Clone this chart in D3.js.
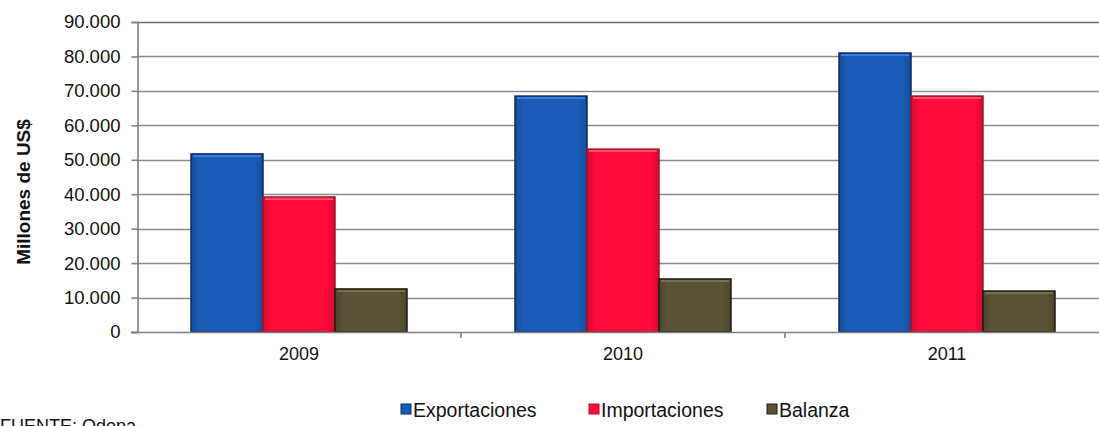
<!DOCTYPE html>
<html><head><meta charset="utf-8">
<script src="https://cdn.jsdelivr.net/npm/d3@7"></script>
<style>
html,body{margin:0;padding:0;background:#fff;overflow:hidden}
text{font-family:"Liberation Sans",Arial,sans-serif}
</style></head>
<body><svg id="c" width="1099" height="426"></svg>
<script>
const years = ["2009", "2010", "2011"];
const seriesNames = ["Exportaciones", "Importaciones", "Balanza"];
const exportaciones = [51700, 68500, 81000];
const importaciones = [39200, 53100, 68500];
const balanza = [12500, 15400, 11900];
const yTicks = [0, 10000, 20000, 30000, 40000, 50000, 60000, 70000, 80000, 90000];
const yTickLabels = ["0", "10.000", "20.000", "30.000", "40.000", "50.000", "60.000", "70.000", "80.000", "90.000"];
const yTitle = "Millones de US$";
const source = "FUENTE: Odepa";

const seriesValues = [exportaciones, importaciones, balanza];
const fills = ["#1b5cb8", "#fe0a3b", "#5b5337"];
const strokes = ["#0c2b63", "#a3152d", "#1e1c12"];
const lights = ["#3a7fe0", "#ff4d6e", "#7a7050"];

const svg = d3.select("#c");
const pLeft = 137, pTop = 22, pBottom = 332, pRight = 1109;

const y = d3.scaleLinear().domain([0, 90000]).range([pBottom, pTop]);
const x0 = d3.scaleBand().domain(years).range([pLeft, pRight]).paddingInner(0).paddingOuter(0);
const x1 = d3.scaleBand().domain(seriesNames).range([0, x0.bandwidth()]).paddingInner(0).paddingOuter(0.75);

// gradients
const defs = svg.append("defs");
seriesNames.forEach((s, i) => {
  const g = defs.append("linearGradient").attr("id", "g" + i).attr("x1", 0).attr("x2", 1).attr("y1", 0).attr("y2", 0);
  g.append("stop").attr("offset", "0%").attr("stop-color", d3.color(fills[i]).darker(0.5));
  g.append("stop").attr("offset", "12%").attr("stop-color", fills[i]);
  g.append("stop").attr("offset", "88%").attr("stop-color", fills[i]);
  g.append("stop").attr("offset", "100%").attr("stop-color", d3.color(fills[i]).darker(0.5));
});

// gridlines
svg.append("g").selectAll("line").data(yTicks.slice(1)).join("line")
  .attr("x1", pLeft).attr("x2", 1099)
  .attr("y1", d => Math.round(y(d)) + 0.5).attr("y2", d => Math.round(y(d)) + 0.5)
  .attr("stroke", d => d === 90000 ? "#6e6e6e" : "#8c8c8c").attr("stroke-width", 1.6);

// y axis
const yAxis = d3.axisLeft(y).tickValues(yTicks).tickSize(6).tickPadding(11)
  .tickFormat((d, i) => yTickLabels[i]);
const ga = svg.append("g").attr("transform", `translate(${pLeft + 0.5},0)`).call(yAxis);
ga.select(".domain").attr("stroke", "#808080").attr("stroke-width", 1.6);
ga.selectAll(".tick line").attr("stroke", "#808080").attr("stroke-width", 1.6);
ga.selectAll(".tick text").attr("font-size", 18.5).attr("fill", "#111").attr("font-family", "Liberation Sans, Arial, sans-serif");

// bars
const groups = svg.append("g").selectAll("g").data(years).join("g")
  .attr("transform", d => `translate(${x0(d)},0)`);
groups.selectAll("rect").data((d, yi) => seriesNames.map((s, si) => ({ s, si, v: seriesValues[si][yi] }))).join("rect")
  .attr("x", d => x1(d.s))
  .attr("y", d => y(d.v))
  .attr("width", x1.bandwidth())
  .attr("height", d => y(0) - y(d.v))
  .attr("fill", d => `url(#g${d.si})`)
  .attr("stroke", d => strokes[d.si]).attr("stroke-width", 1.5);
groups.selectAll("line.hl").data((d, yi) => seriesNames.map((s, si) => ({ s, si, v: seriesValues[si][yi] }))).join("line")
  .attr("class", "hl")
  .attr("x1", d => x1(d.s) + 2).attr("x2", d => x1(d.s) + x1.bandwidth() - 2)
  .attr("y1", d => y(d.v) + 2).attr("y2", d => y(d.v) + 2)
  .attr("stroke", d => lights[d.si]).attr("stroke-width", 2);

// x axis
const xAxis = d3.axisBottom(x0).tickSize(0).tickPadding(15);
const gx = svg.append("g").attr("transform", `translate(0,${pBottom + 0.5})`).call(xAxis);
gx.select(".domain").remove();
gx.selectAll(".tick text").attr("font-size", 18).attr("fill", "#111").attr("font-family", "Liberation Sans, Arial, sans-serif");
svg.append("line").attr("x1", pLeft - 6).attr("x2", 1099).attr("y1", pBottom + 0.5).attr("y2", pBottom + 0.5)
  .attr("stroke", "#808080").attr("stroke-width", 1.6);
svg.append("g").selectAll("line").data(years.slice(1)).join("line")
  .attr("x1", d => x0(d)).attr("x2", d => x0(d))
  .attr("y1", pBottom).attr("y2", pBottom + 6).attr("stroke", "#808080").attr("stroke-width", 1.6);

// y title
svg.append("text").attr("transform", "translate(30,192) rotate(-90)")
  .attr("text-anchor", "middle").attr("font-size", 19).attr("font-weight", "bold").attr("fill", "#111")
  .text(yTitle);

// legend
const legendX = [401, 589, 767];
const lg = svg.append("g").selectAll("g").data(seriesNames).join("g")
  .attr("transform", (d, i) => `translate(${legendX[i]},0)`);
lg.append("rect").attr("x", 0).attr("y", 404).attr("width", 10).attr("height", 10)
  .attr("fill", (d, i) => fills[i]).attr("stroke", (d, i) => strokes[i]).attr("stroke-width", 1);
lg.append("text").attr("x", 12).attr("y", 417).attr("font-size", 19.5).attr("fill", "#111").text(d => d);

svg.append("text").attr("x", 0).attr("y", 432).attr("font-size", 18).attr("fill", "#111").text(source);
</script></body></html>
